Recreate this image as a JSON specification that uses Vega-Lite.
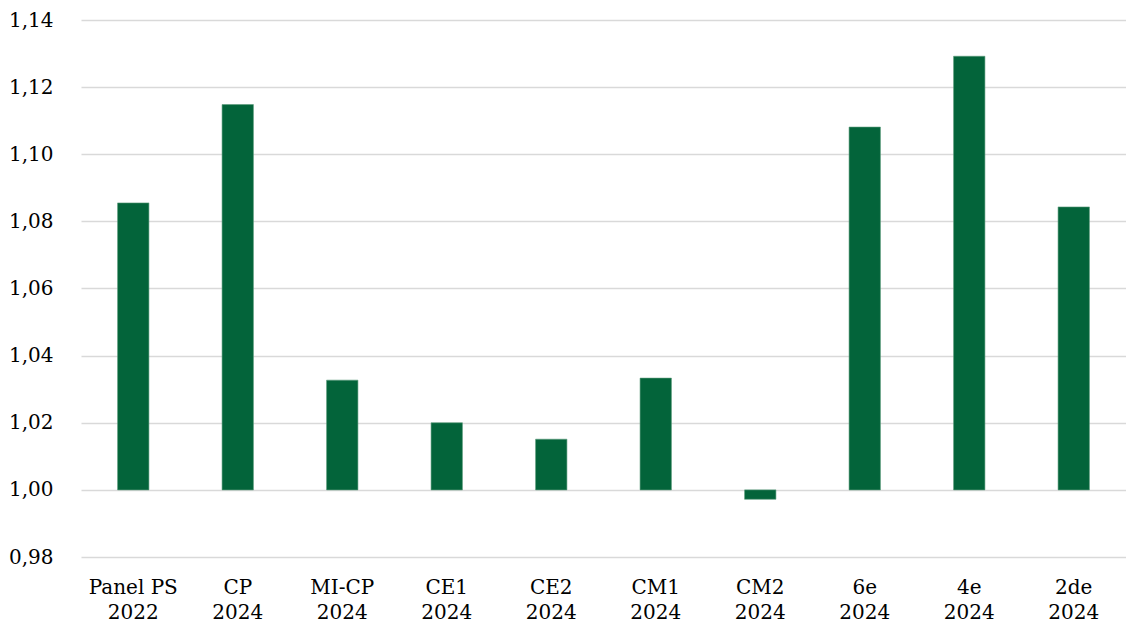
{
  "$schema": "https://vega.github.io/schema/vega-lite/v6.json",
  "autosize": {"type": "none"},
  "padding": {"left": 81, "top": 20, "right": 0, "bottom": 70},
  "width": 1045,
  "height": 537,
  "background": "white",
  "data": {"values": [
    {"cat": "Panel PS|2022", "value": 1.0855},
    {"cat": "CP|2024", "value": 1.1148},
    {"cat": "MI-CP|2024", "value": 1.0327},
    {"cat": "CE1|2024", "value": 1.0200},
    {"cat": "CE2|2024", "value": 1.0151},
    {"cat": "CM1|2024", "value": 1.0333},
    {"cat": "CM2|2024", "value": 0.9972},
    {"cat": "6e|2024", "value": 1.1081},
    {"cat": "4e|2024", "value": 1.1292},
    {"cat": "2de|2024", "value": 1.0843}
  ]},
  "mark": {"type": "bar", "color": "#03643A", "stroke": "#5a9a7a", "strokeWidth": 0.6},
  "encoding": {
    "x": {
      "field": "cat", "type": "nominal", "sort": null,
      "scale": {"paddingInner": 0.7, "paddingOuter": 0.35},
      "axis": {
        "title": null, "labelAngle": 0, "domain": false, "ticks": false,
        "labelExpr": "split(datum.label, '|')",
        "labelFont": "DejaVu Serif", "labelFontSize": 20, "labelColor": "#000000",
        "labelPadding": 20, "labelLineHeight": 25
      }
    },
    "y": {
      "field": "value", "type": "quantitative",
      "scale": {"domain": [0.98, 1.14], "zero": false, "nice": false},
      "axis": {
        "title": null, "domain": false, "ticks": false, "values": [0.98, 1.0, 1.02, 1.04, 1.06, 1.08, 1.1, 1.12, 1.14],
        "labelExpr": "replace(format(datum.value, '.2f'), '.', ',')",
        "labelFont": "DejaVu Serif", "labelFontSize": 20, "labelColor": "#000000",
        "labelPadding": 28,
        "gridColor": "#d9d9d9", "gridWidth": 1.5
      }
    },
    "y2": {"datum": 1.0}
  },
  "config": {"view": {"stroke": null}}
}
